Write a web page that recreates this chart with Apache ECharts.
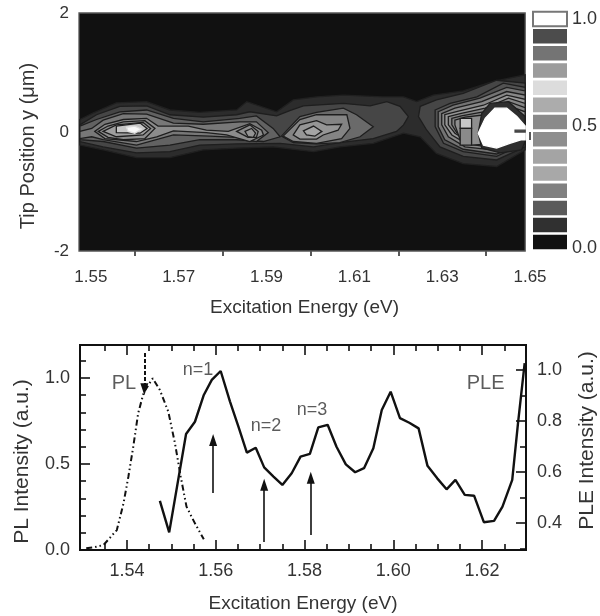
<!DOCTYPE html>
<html><head><meta charset="utf-8">
<style>html,body{margin:0;padding:0;background:#fff}#c{width:600px;height:616px;filter:blur(0.5px)}</style>
<script src="https://cdn.jsdelivr.net/npm/echarts@6/dist/echarts.min.js"></script>
</head><body><div id="c"></div>
<script>
// ---- top map: axis values
const mapMajorTicks=[1.55,1.57,1.59,1.61,1.63,1.65];
const mapMinorTicks=[1.56,1.58,1.60,1.62,1.64];
const mapYTicks=[2,0,-2];
// ---- contours: [energy eV, position um]
const plotArea=[[1.5473,2],[1.6489,2],[1.6489,-2],[1.5473,-2]];
const bandOuter=[[1.5475,.21],[1.5502,.31],[1.5558,.49],[1.5627,.51],[1.5680,.37],[1.5748,.33],[1.5832,.37],[1.5855,.51],[1.5923,.34],[1.5961,.54],[1.6014,.59],[1.6075,.62],[1.6166,.59],[1.6212,.59],[1.6242,.51],[1.6280,.62],[1.6348,.69],[1.6417,.85],[1.6489,.96],[1.6489,-.30],[1.6424,-.58],[1.6348,-.53],[1.6287,-.36],[1.6250,-.08],[1.6212,-.02],[1.6143,-.19],[1.6067,-.25],[1.6007,-.33],[1.5915,-.25],[1.5832,-.27],[1.5756,-.30],[1.5680,-.43],[1.5604,-.43],[1.5528,-.30],[1.5475,-.22]];
const bandLeft=[[1.5475,.12],[1.5513,.29],[1.5566,.43],[1.5627,.44],[1.5680,.29],[1.5756,.25],[1.5832,.29],[1.5862,.34],[1.5923,.27],[1.5953,.36],[1.5984,.44],[1.6075,.48],[1.6136,.44],[1.6174,.51],[1.6204,.43],[1.6223,.26],[1.6212,.12],[1.6196,.01],[1.6143,-.11],[1.6067,-.18],[1.6007,-.25],[1.5931,-.19],[1.5832,-.20],[1.5748,-.22],[1.5680,-.33],[1.5604,-.35],[1.5528,-.25],[1.5475,-.16]];
const bandRight=[[1.6250,.43],[1.6287,.54],[1.6348,.65],[1.6424,.87],[1.6489,.82],[1.6489,-.25],[1.6424,-.47],[1.6348,-.41],[1.6295,-.25],[1.6265,.03],[1.6246,.26]];
const bodyLeft=[[1.5475,.10],[1.5513,.21],[1.5566,.34],[1.5627,.37],[1.5688,.23],[1.5756,.17],[1.5839,.23],[1.5877,.27],[1.5915,.06],[1.5931,-.08],[1.5893,-.16],[1.5832,-.13],[1.5748,-.13],[1.5680,-.22],[1.5604,-.27],[1.5528,-.16],[1.5475,-.13]];
const bodyMid=[[1.5934,-.07],[1.5976,.26],[1.6014,.33],[1.6075,.40],[1.6105,.29],[1.6143,.09],[1.6113,-.08],[1.6067,-.18],[1.6014,-.20],[1.5961,-.18]];
const ridgeLeft=[[1.5475,.01],[1.5502,.06],[1.5528,.20],[1.5574,.31],[1.5627,.30],[1.5688,.15],[1.5756,.13],[1.5839,.17],[1.5877,.17],[1.5904,-.01],[1.5877,-.16],[1.5832,-.09],[1.5771,-.07],[1.5688,-.05],[1.5604,-.22],[1.5528,-.13],[1.5502,-.08],[1.5475,-.11]];
const ridgeInner=[[1.5509,.01],[1.5532,.13],[1.5574,.21],[1.5627,.23],[1.5653,.10],[1.5722,.10],[1.5763,.03],[1.5813,.01],[1.5862,.14],[1.5889,.03],[1.5893,-.05],[1.5862,-.16],[1.5809,-.05],[1.5763,-.01],[1.5688,.02],[1.5650,-.08],[1.5604,-.16],[1.5532,-.11]];
const peakRingA=[[1.5517,.01],[1.5539,.10],[1.5574,.17],[1.5623,.19],[1.5646,.06],[1.5623,-.11],[1.5574,-.13],[1.5539,-.09]];
const peakRingB=[[1.5528,.01],[1.5558,.12],[1.5619,.16],[1.5636,.06],[1.5619,-.05],[1.5558,-.08]];
const peakRingC=[[1.5558,.10],[1.5612,.15],[1.5628,.06],[1.5612,-.02],[1.5558,-.01]];
const peakTop=[[1.5581,.08],[1.5600,.10],[1.5615,.05],[1.5600,-.02],[1.5585,.01]];
const midRingA=[[1.5832,.01],[1.5862,.12],[1.5881,.01],[1.5877,-.09],[1.5858,-.09]];
const midRingB=[[1.5851,.01],[1.5866,.06],[1.5875,-.02],[1.5870,-.09],[1.5858,-.08]];
const lobeRingA=[[1.5938,-.07],[1.5976,.21],[1.6014,.29],[1.6083,.29],[1.6090,.06],[1.6071,-.11],[1.6014,-.19],[1.5961,-.16]];
const lobeRingB=[[1.5961,-.05],[1.5976,.12],[1.6014,.19],[1.6037,.12],[1.6071,.13],[1.6063,.03],[1.6029,-.05],[1.6014,-.12],[1.5976,-.12]];
const lobeRingC=[[1.5984,.02],[1.6007,.10],[1.6026,.01],[1.6010,-.07],[1.5991,-.05]];
const blobRing0=[[1.6284,.37],[1.6318,.48],[1.6379,.59],[1.6439,.82],[1.6489,.75],[1.6489,-.19],[1.6424,-.41],[1.6348,-.33],[1.6303,-.19],[1.6284,.09]];
const blobRing1=[[1.6291,.34],[1.6325,.45],[1.6386,.57],[1.6447,.75],[1.6489,.69],[1.6489,-.16],[1.6424,-.37],[1.6348,-.29],[1.6306,-.13],[1.6291,.09]];
const blobRing2=[[1.6299,.31],[1.6329,.40],[1.6390,.51],[1.6447,.68],[1.6489,.62],[1.6489,-.13],[1.6424,-.31],[1.6352,-.25],[1.6314,-.08],[1.6299,.12]];
const blobRing3=[[1.6306,.29],[1.6337,.35],[1.6394,.45],[1.6447,.62],[1.6489,.55],[1.6489,-.11],[1.6424,-.27],[1.6356,-.20],[1.6322,-.05],[1.6306,.12]];
const blobRing4=[[1.6314,.26],[1.6341,.31],[1.6398,.40],[1.6451,.57],[1.6489,.48],[1.6489,-.08],[1.6424,-.25],[1.6360,-.16],[1.6329,-.02],[1.6314,.12]];
const blobRing5=[[1.6322,.23],[1.6344,.27],[1.6394,.34],[1.6451,.51],[1.6489,.41],[1.6489,-.05],[1.6424,-.22],[1.6363,-.13],[1.6333,-.01],[1.6322,.12]];
const blobRing6=[[1.6329,.20],[1.6352,.25],[1.6398,.29],[1.6447,.45],[1.6489,.34],[1.6489,-.02],[1.6424,-.19],[1.6367,-.22],[1.6341,-.13],[1.6329,.12]];
const blobUpperCell=[[1.6341,.23],[1.6367,.23],[1.6367,.06],[1.6341,.06]];
const blobLowerCell=[[1.6341,.06],[1.6367,.06],[1.6367,-.22],[1.6341,-.22]];
const blobDark=[[1.6382,-.02],[1.6390,.31],[1.6409,.48],[1.6451,.51],[1.6489,.26],[1.6489,-.16],[1.6481,-.30],[1.6432,-.35],[1.6390,-.27]];
const blobCore=[[1.6382,-.02],[1.6398,.23],[1.6420,.40],[1.6447,.40],[1.6470,.26],[1.6489,.10],[1.6489,-.13],[1.6481,-.13],[1.6454,-.19],[1.6424,-.27],[1.6394,-.22]];
const blobBar=[[1.6466,.03],[1.6489,.03],[1.6489,.0],[1.6466,.0]];
const contours=[plotArea,bandOuter,bandLeft,bandRight,bodyLeft,bodyMid,ridgeLeft,ridgeInner,peakRingA,peakRingB,peakRingC,peakTop,midRingA,midRingB,lobeRingA,lobeRingB,lobeRingC,blobRing0,blobRing1,blobRing2,blobRing3,blobRing4,blobRing5,blobRing6,blobUpperCell,blobLowerCell,blobDark,blobCore,blobBar];
const contourShades=['#111111','#2c2c2c','#464646','#464646','#626262','#6a6a6a','#787878','#8c8c8c','#8c8c8c','#9e9e9e','#c4c4c4','#f8f8f8','#8a8a8a','#949494','#848484','#969696','#a4a4a4','#525252','#747474','#888888','#969696','#868686','#828282','#8e8e8e','#c8c8c8','#8a8a8a','#2e2e2e','#ffffff','#444444'];
const contourOutlines=['#555555','#202020','#1e1e1e','#1e1e1e','#1e1e1e','#1e1e1e','#1e1e1e','#1e1e1e','#1e1e1e','#1e1e1e','#1e1e1e','#dddddd','#1e1e1e','#1e1e1e','#1e1e1e','#1e1e1e','#1e1e1e','#1e1e1e','#1e1e1e','#1e1e1e','#1e1e1e','#1e1e1e','#1e1e1e','#1e1e1e','#1e1e1e','#1e1e1e','#1e1e1e','#ffffff','#444444'];
// ---- colour bar
const scaleLevels=[1.0,.925,.85,.775,.70,.625,.55,.475,.40,.325,.25,.175,.10,.026];
const scaleShades=['#ffffff','#4c4c4c','#747474','#9c9c9c','#dcdcdc','#acacac','#8a8a8a','#8e8e8e','#a4a4a4','#a8a8a8','#808080','#5a5a5a','#303030','#111111'];
const scaleTicks=[0,.5,1];
// ---- lower plot
const plMajorTicks=[1.54,1.56,1.58,1.60,1.62];
const plMinorTicks=[1.535,1.545,1.55,1.555,1.565,1.57,1.575,1.585,1.59,1.595,1.605,1.61,1.615,1.625];
const leftMajor=[0,.5,1];
const leftMinor=[.1,.2,.3,.4,.6,.7,.8,.9,1.1];
const rightMajor=[.4,.6,.8,1];
const rightMinor=[.3,.5,.7,.9];
const plEnergy=[1.5308,1.5324,1.5347,1.5377,1.5392,1.5403,1.5414,1.5425,1.5437,1.5448,1.5458,1.5474,1.5493,1.5508,1.5521,1.5534,1.5553,1.5573];
const plIntensity=[.010,.015,.029,.116,.271,.426,.600,.794,.911,.959,.998,.930,.804,.620,.426,.252,.155,.062];
const pleEnergy=[1.5474,1.5495,1.5533,1.5553,1.5573,1.5591,1.5611,1.5632,1.5651,1.5670,1.5690,1.5709,1.5730,1.5750,1.5771,1.5791,1.5812,1.5831,1.5852,1.5872,1.5893,1.5914,1.5934,1.5955,1.5974,1.5994,1.6015,1.6036,1.6057,1.6077,1.6099,1.6120,1.6140,1.6161,1.6182,1.6204,1.6227,1.6246,1.6268,1.6281,1.6296];
const pleIntensity=[.487,.363,.749,.797,.902,.961,.996,.876,.778,.676,.695,.618,.582,.549,.595,.660,.671,.775,.785,.699,.630,.599,.615,.693,.843,.915,.811,.793,.771,.624,.575,.532,.569,.510,.507,.403,.408,.464,.569,.792,1.027];
const arrowEnergy=[1.5594,1.5709,1.5814];
const arrowTail=[.331,.047,.087];
const arrowHead=[.640,.380,.420];
const plArrow=[[1.5439,1.145],[1.5439,.935]];
const noteText=['n=1','n=2','n=3','PL','PLE'];
const noteEnergy=[1.5560,1.5713,1.5817,1.5393,1.6208];
const noteLevel=[1.047,.721,.814,.971,.971];

const F='"Liberation Sans",Arial,sans-serif', INK='#333';
const fmt2=v=>v.toFixed(2), fmt1=v=>v.toFixed(1);
const none={show:false};
const HEAD='path://M0 0L0 0M12 12L12 12M6 0L10 12L2 12Z';
const mapX={min:1.5473,max:1.65,type:'value',gridIndex:0,position:'bottom',splitLine:none,axisLine:none};
const lowX={min:1.5294,max:1.6299,type:'value',gridIndex:2,splitLine:none,axisLine:{show:true,lineStyle:{color:'#111',width:2}},axisLabel:none};
const lowY={min:0,max:1.192,type:'value',gridIndex:2,position:'left',splitLine:none,axisLine:{show:true,lineStyle:{color:'#111',width:2}},axisLabel:none};
const lowR={min:.294,max:1.098,type:'value',gridIndex:2,position:'right',splitLine:none,axisLine:{show:true,lineStyle:{color:'#111',width:2}},axisLabel:none};
const ticks=(vals,len)=>({show:true,inside:true,length:len,customValues:vals,lineStyle:{color:'#111',width:1.6}});
const txt=(size)=>({color:INK,fontFamily:F,fontSize:size});

const option={
 animation:false,backgroundColor:'#fff',
 grid:[{left:79,top:13,width:451,height:238,outerBoundsMode:'none'},{left:533,top:19,width:34,height:229,outerBoundsMode:'none'},{left:80,top:345,width:446,height:205,outerBoundsMode:'none'}],
 xAxis:[
  {...mapX,axisTick:{show:true,length:8,customValues:mapMajorTicks,lineStyle:{color:'#222',width:1.5}},
   axisLabel:{show:true,customValues:mapMajorTicks,formatter:fmt2,margin:18,...txt(17)},
   name:'Excitation Energy (eV)',nameLocation:'middle',nameGap:47,nameTextStyle:txt(19)},
  {...mapX,axisTick:{show:true,length:5,customValues:mapMinorTicks,lineStyle:{color:'#222',width:1.5}},axisLabel:none},
  {type:'value',gridIndex:1,min:0,max:1,show:false},
  {...lowX,position:'bottom',axisTick:ticks(plMajorTicks,10),axisLabel:{show:true,customValues:plMajorTicks,formatter:fmt2,margin:12,...txt(18)},
   name:'Excitation Energy (eV)',nameLocation:'middle',nameGap:44,nameTextStyle:txt(19)},
  {...lowX,position:'bottom',axisTick:ticks(plMinorTicks,6)},
  {...lowX,position:'top',axisTick:ticks(plMajorTicks,10)},
  {...lowX,position:'top',axisTick:ticks(plMinorTicks,6)}
 ],
 yAxis:[
  {type:'value',gridIndex:0,min:-2,max:2,interval:2,position:'left',splitLine:none,axisLine:none,axisTick:none,
   axisLabel:{margin:10,...txt(17)},name:'Tip Position y (μm)',nameLocation:'middle',nameGap:41,nameTextStyle:{...txt(20),padding:[0,28,0,0]}},
  {type:'value',gridIndex:1,min:0,max:1,position:'right',splitLine:none,axisLine:none,axisTick:none,
   axisLabel:{show:true,customValues:scaleTicks,margin:5,...txt(18),formatter:v=>v===.5?'{up|0.5}':fmt1(v),rich:{up:{...txt(18),padding:[0,0,14,0]}}}},
  {...lowY,axisTick:ticks(leftMajor,10),axisLabel:{show:true,customValues:leftMajor,formatter:fmt1,margin:10,...txt(18)},
   name:'PL Intensity (a.u.)',nameLocation:'middle',nameGap:47,nameTextStyle:{...txt(21),padding:[0,28,0,0]}},
  {...lowY,axisTick:ticks(leftMinor,6)},
  {...lowR,axisTick:ticks(rightMajor,10),axisLabel:{show:true,customValues:rightMajor,formatter:fmt1,margin:11,...txt(18)},
   name:'PLE Intensity (a.u.)',nameLocation:'middle',nameGap:51,nameTextStyle:{...txt(21),padding:[0,0,0,14]}},
  {...lowR,axisTick:ticks(rightMinor,6)}
 ],
 series:[
  {type:'custom',xAxisIndex:0,yAxisIndex:0,silent:true,data:contours.map((c,i)=>[c[0][0],c[0][1],i]),encode:{x:0,y:1},
   renderItem:(p,api)=>{const i=api.value(2);return{type:'polygon',shape:{points:contours[i].map(d=>api.coord(d))},
     style:{fill:contourShades[i],stroke:contourOutlines[i],lineWidth:1.3}}}},
  {type:'custom',xAxisIndex:2,yAxisIndex:1,silent:true,data:scaleLevels.map((v,i)=>[0,v,i]),encode:{x:0,y:1},
   renderItem:(p,api)=>{const i=api.value(2),v=api.value(1),a=api.coord([0,v+.0317]),b=api.coord([1,v-.0317]);
     return{type:'rect',shape:{x:a[0],y:a[1],width:b[0]-a[0],height:b[1]-a[1]},
       style:{fill:scaleShades[i],stroke:i===0?'#777':null,lineWidth:2}}}},
  {type:'line',name:'PL',xAxisIndex:3,yAxisIndex:2,data:plEnergy.map((x,i)=>[x,plIntensity[i]]),showSymbol:false,
   lineStyle:{color:'#111',width:2,type:[6,3,1.5,3,1.5,3]},
   markLine:{silent:true,symbol:['none',HEAD],symbolSize:12,label:none,
    data:[[{coord:plArrow[0],lineStyle:{type:[4,2],color:'#111',width:2}},{coord:plArrow[1]}],
     ...arrowEnergy.map((x,i)=>[{coord:[x,arrowTail[i]],lineStyle:{type:'solid',color:'#111',width:1.6}},{coord:[x,arrowHead[i]]}])]}},
  {type:'line',name:'PLE',xAxisIndex:3,yAxisIndex:4,data:pleEnergy.map((x,i)=>[x,pleIntensity[i]]),showSymbol:false,
   lineStyle:{color:'#111',width:2.4}},
  {type:'scatter',xAxisIndex:3,yAxisIndex:2,symbolSize:0,silent:true,
   data:noteText.map((t,i)=>({value:[noteEnergy[i],noteLevel[i]],name:t,label:{fontSize:t.startsWith('n')?18:20}})),
   label:{show:true,position:'inside',formatter:p=>p.name,color:INK,fontFamily:F}}
 ]
};
echarts.init(document.getElementById('c'),null,{renderer:'canvas'}).setOption(option);
</script></body></html>
